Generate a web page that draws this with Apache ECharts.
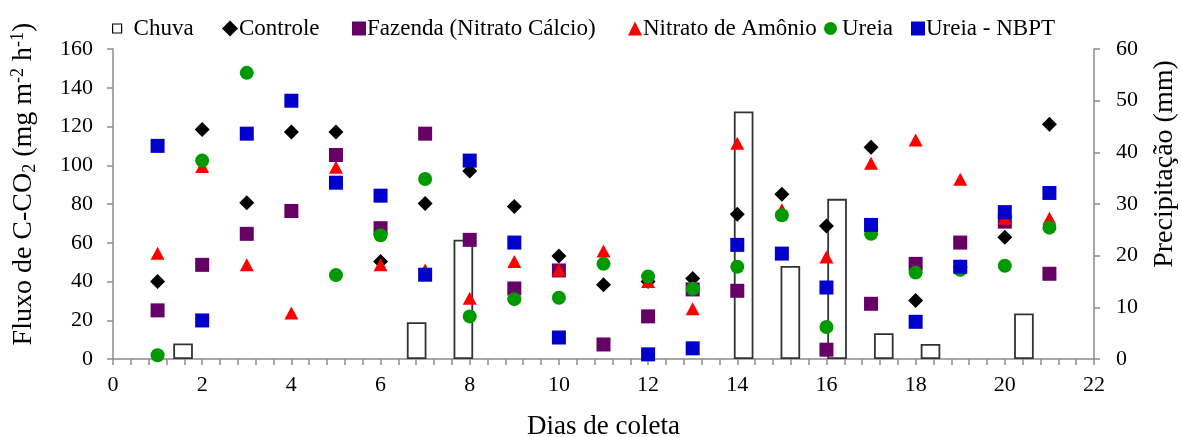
<!DOCTYPE html>
<html>
<head>
<meta charset="utf-8">
<script src="https://cdn.jsdelivr.net/npm/echarts@6/dist/echarts.min.js"></script>
<style>
  html, body { margin: 0; padding: 0; background: #fff; }
  #chart { width: 1182px; height: 437px; }
</style>
</head>
<body>
<div id="chart"></div>
<script>
// Sampling days 1..21
const dias = [1,2,3,4,5,6,7,8,9,10,11,12,13,14,15,16,17,18,19,20,21];

// Rainfall (mm) per sampling day; null = no rain
const chuva = [null, 3, null, null, null, null, 7.1, 23.1, null, null, null, null, null, 47.9, 18, 31, 5, 2.9, null, 8.8, null];

// C-CO2 flux (mg m-2 h-1) per treatment
const controle = [40, 118.4, 80.6, 117.2, 117.2, 50.3, 80.2, 97, 78.7, 53.2, 38.3, 40, 41.5, 74.7, 85, 68.7, 109.3, 30.2, 47.5, 62.9, 121.1];
const fazenda  = [25.1, 48.6, 64.6, 76.4, 105.3, 67.5, 116.3, 61.5, 36.4, 45.7, 7.5, 22, 35.9, 35.2, null, 4.8, 28.5, 49.1, 60.1, 70.9, 44];
const nitrato  = [54.6, 99.3, 48.6, 23.7, 99, 48.6, 46, 31.4, 50.3, 46, 55.8, 40, 25.9, 111.3, 77, 52.6, 101, 113, 92.8, 72.7, 72.7];
const ureia    = [1.9, 102.4, 147.7, null, 43.3, 63.9, 92.9, 22, 30.9, 31.6, 49.1, 42.6, 36.2, 47.6, 74.2, 16.5, 64.6, 44.6, 46, 48.1, 67.8];
const nbpt     = [110, 19.9, 116.3, 133.3, 91, 84.3, 43.5, 102.4, 60.1, 11.1, null, 2.4, 5.5, 58.9, 54.4, 36.9, 69.2, 19.2, 47.6, 75.8, 85.7];

const FONT = '"Liberation Serif", "Times New Roman", serif';
const AXIS_GREY = '#8c8c8c';

function pairs(vals) {
  return dias.map((d, i) => [d, vals[i]]).filter(p => p[1] != null);
}

const chart = echarts.init(document.getElementById('chart'), null, { renderer: 'canvas' });

const legendBase = {
  top: 17,
  itemWidth: 14,
  itemHeight: 14,
  itemGap: 0,
  padding: 0,
  textStyle: { fontFamily: FONT, fontSize: 23, color: '#000', padding: [0, 0, 0, -4] }
};

const scatterBase = {
  type: 'scatter',
  xAxisIndex: 0,
  yAxisIndex: 0,
  symbolSize: 14,
  emphasis: { disabled: true }
};

chart.setOption({
  animation: false,
  backgroundColor: '#fff',
  grid: { left: 113, right: 88, top: 49, bottom: 78, outerBoundsMode: 'none', containLabel: false },
  legend: [
    Object.assign({}, legendBase, { left: 112, itemWidth: 9, itemHeight: 9,
      textStyle: Object.assign({}, legendBase.textStyle, { padding: [0, 0, 0, 7] }),
      data: [{ name: 'Chuva', icon: 'rect', itemStyle: { color: '#fff', borderColor: '#000', borderWidth: 1.2, opacity: 1 } }] }),
    Object.assign({}, legendBase, { left: 222, itemWidth: 16, itemHeight: 16, data: [{ name: 'Controle', icon: 'diamond' }] }),
    Object.assign({}, legendBase, { left: 352, data: [{ name: 'Fazenda (Nitrato Cálcio)', icon: 'rect' }] }),
    Object.assign({}, legendBase, { left: 628, data: [{ name: 'Nitrato de Amônio', icon: 'triangle' }] }),
    Object.assign({}, legendBase, { left: 824, itemWidth: 13,
      textStyle: Object.assign({}, legendBase.textStyle, { padding: [0, 0, 0, 0] }),
      data: [{ name: 'Ureia', icon: 'circle' }] }),
    Object.assign({}, legendBase, { left: 911, data: [{ name: 'Ureia - NBPT', icon: 'rect' }] })
  ],
  xAxis: [
    {
      type: 'value',
      min: 0, max: 22, interval: 2,
      name: 'Dias de coleta',
      nameLocation: 'middle',
      nameGap: 54,
      nameTextStyle: { fontFamily: FONT, fontSize: 27, color: '#000' },
      axisLine: { show: true, onZero: false, lineStyle: { color: AXIS_GREY, width: 1.5 } },
      axisTick: { show: true, inside: false, length: 6, lineStyle: { color: AXIS_GREY, width: 1.5 } },
      minorTick: { show: true, splitNumber: 5, length: 6, lineStyle: { color: AXIS_GREY, width: 1.5 } },
      axisLabel: { fontFamily: FONT, fontSize: 22, color: '#000', margin: 15 },
      splitLine: { show: false }
    },
    {
      type: 'category',
      data: dias,
      show: false,
      boundaryGap: true
    }
  ],
  yAxis: [
    {
      type: 'value',
      min: 0, max: 160, interval: 20,
      name: 'Fluxo de C-CO{sub|2} (mg m{sup|-2} h{sup|-1})',
      nameLocation: 'middle',
      nameRotate: 90,
      nameGap: 74,
      nameTextStyle: {
        fontFamily: FONT, fontSize: 28, color: '#000',
        padding: [0, 0, 0, 40],
        rich: {
          sub: { fontFamily: FONT, fontSize: 18, color: '#000', verticalAlign: 'bottom', padding: [12, 0, 0, 0] },
          sup: { fontFamily: FONT, fontSize: 18, color: '#000', verticalAlign: 'top', padding: [0, 0, 12, 0] }
        }
      },
      axisLine: { show: true, lineStyle: { color: AXIS_GREY, width: 1.5 } },
      axisTick: { show: true, inside: false, length: 6, lineStyle: { color: AXIS_GREY, width: 1.5 } },
      axisLabel: { fontFamily: FONT, fontSize: 22, color: '#000', margin: 20 },
      splitLine: { show: false }
    },
    {
      type: 'value',
      position: 'right',
      min: 0, max: 60, interval: 10,
      name: 'Precipitação (mm)',
      nameLocation: 'middle',
      nameRotate: 90,
      nameGap: 57,
      nameTextStyle: { fontFamily: FONT, fontSize: 28, color: '#000', padding: [0, 0, 0, 80] },
      axisLine: { show: true, lineStyle: { color: AXIS_GREY, width: 1.5 } },
      axisTick: { show: true, inside: false, length: 6, lineStyle: { color: AXIS_GREY, width: 1.5 } },
      axisLabel: { fontFamily: FONT, fontSize: 22, color: '#000', margin: 22 },
      splitLine: { show: false }
    }
  ],
  series: [
    {
      name: 'Chuva',
      type: 'bar',
      xAxisIndex: 1,
      yAxisIndex: 1,
      data: chuva,
      barWidth: '42%',
      itemStyle: { color: '#fff', borderColor: '#333', borderWidth: 1.8 },
      emphasis: { disabled: true }
    },
    Object.assign({}, scatterBase, {
      name: 'Controle', symbol: 'diamond', symbolSize: 15,
      data: pairs(controle), itemStyle: { color: '#000', opacity: 1 }
    }),
    Object.assign({}, scatterBase, {
      name: 'Fazenda (Nitrato Cálcio)', symbol: 'rect', symbolSize: 14,
      data: pairs(fazenda), itemStyle: { color: '#660066', opacity: 1 }
    }),
    Object.assign({}, scatterBase, {
      name: 'Nitrato de Amônio', symbol: 'triangle', symbolSize: [14, 13],
      data: pairs(nitrato), itemStyle: { color: '#ff0000', opacity: 1 }
    }),
    Object.assign({}, scatterBase, {
      name: 'Ureia', symbol: 'circle', symbolSize: 14,
      data: pairs(ureia), itemStyle: { color: '#009900', opacity: 1 }
    }),
    Object.assign({}, scatterBase, {
      name: 'Ureia - NBPT', symbol: 'rect', symbolSize: 14,
      data: pairs(nbpt), itemStyle: { color: '#0000cc', opacity: 1 }
    })
  ]
});
</script>
</body>
</html>
